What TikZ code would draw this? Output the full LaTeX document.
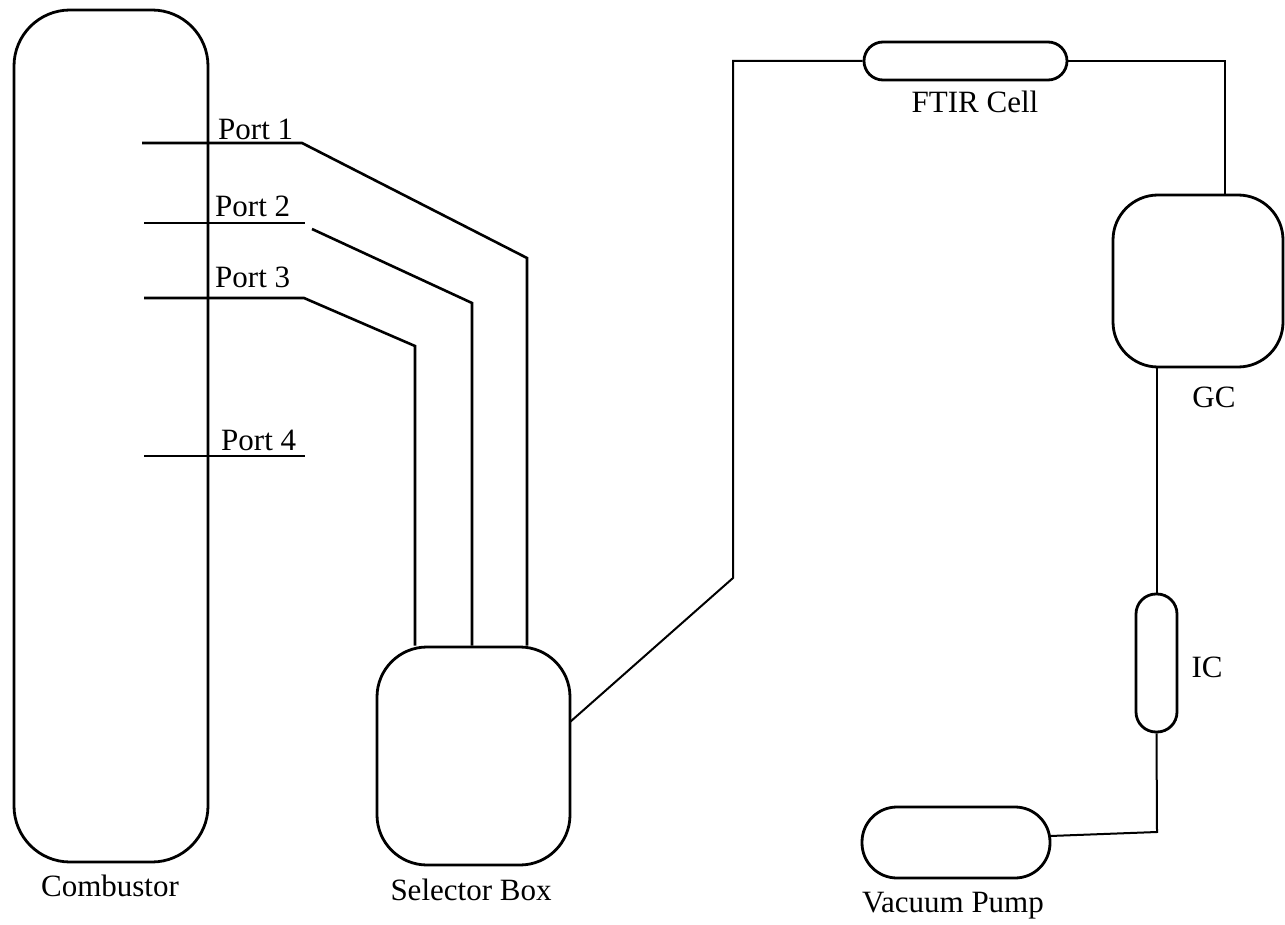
\documentclass[tikz,border=0pt]{standalone}
\usepackage{fontspec}
\setmainfont{Liberation Serif}
\begin{document}
\begin{tikzpicture}[x=1pt,y=-1pt,
  unit/.style={draw, line width=2.8pt, inner sep=0pt, rectangle},
  pipe/.style={line width=2pt, line join=miter},
  portline/.style={line width=2.6pt, line join=miter},
  lbl/.style={inner sep=0pt, font=\fontsize{31}{36}\selectfont},
]
\useasboundingbox (0,0) rectangle (1285,925);

% process units
\node[unit, minimum width=194pt, minimum height=852pt, rounded corners=56pt] (comb) at (111,436) {};
\node[unit, minimum width=193pt, minimum height=218pt, rounded corners=50pt] (sel) at (473.5,756) {};
\node[unit, minimum width=203pt, minimum height=38pt, rounded corners=19pt] (ftir) at (965.5,61) {};
\node[unit, minimum width=170pt, minimum height=172pt, rounded corners=45pt] (gc) at (1198,281) {};
\node[unit, minimum width=41pt, minimum height=138pt, rounded corners=20pt] (ic) at (1156.5,663) {};
\node[unit, minimum width=188pt, minimum height=71pt, rounded corners=35pt] (pump) at (956,842.5) {};

% labels
\node[lbl, anchor=base] (combl) at (110,896) {Combustor};
\node[lbl, anchor=base] (sell) at (471,900) {Selector Box};
\node[lbl, anchor=base] (pumpl) at (953,912) {Vacuum Pump};
\node[lbl, anchor=base] (ftirl) at (975,113) {FTIR Cell};
\node[lbl, anchor=base] (gcl) at (1214,407) {GC};
\node[lbl, anchor=base] (icl) at (1207,677) {IC};
\node[lbl, anchor=base west] (p1l) at (218,140) {Port 1};
\node[lbl, anchor=base west] (p2l) at (215,217) {Port 2};
\node[lbl, anchor=base west] (p3l) at (215,288) {Port 3};
\node[lbl, anchor=base west] (p4l) at (221,450) {Port 4};

% sampling port lines
\coordinate (p1a) at (142,143);
\coordinate (p1b) at (302,143);
\coordinate (p1c) at (527,258);
\coordinate (p2a) at (144,223);
\coordinate (p2b) at (305,223);
\coordinate (p2c) at (312,229);
\coordinate (p2d) at (472,303);
\coordinate (p3a) at (144,298);
\coordinate (p3b) at (304,298);
\coordinate (p3c) at (415,346);
\coordinate (p4a) at (144,456);
\coordinate (p4b) at (305,456);

\draw[portline] (p1a) -- (p1b) -- (p1c) -- (p1c |- sel.north);
\draw[portline] (p2a) -- (p2b);
\draw[portline] (p2c) -- (p2d) -- (p2d |- sel.north);
\draw[portline] (p3a) -- (p3b) -- (p3c) -- (p3c |- sel.north);
\draw[portline] (p4a) -- (p4b);

% selector box to FTIR cell
\coordinate (selout) at (570,722);
\coordinate (k1) at (733,578);
\draw[pipe] (selout) -- (k1) -- (k1 |- ftir.west) -- (ftir.west);

% FTIR cell to GC
\coordinate (gctop) at (1225,195);
\draw[pipe] (ftir.east) -- (ftir.east -| gctop) -- (gctop);

% GC to IC
\draw[pipe] (ic.north |- gc.south) -- (ic.north);

% IC to vacuum pump
\coordinate (k2) at (1157,832);
\coordinate (pumpin) at (1050,836);
\draw[pipe] (ic.south) -- (k2) -- (pumpin);
\end{tikzpicture}
\end{document}
